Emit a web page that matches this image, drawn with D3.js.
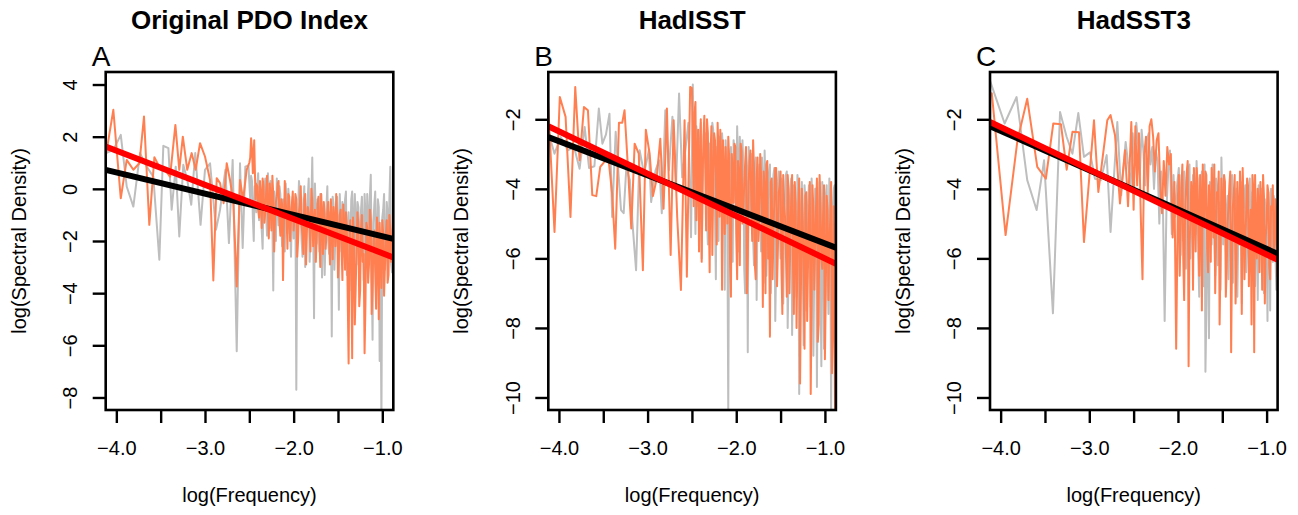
<!DOCTYPE html>
<html>
<head>
<meta charset="utf-8">
<script src="https://cdn.jsdelivr.net/npm/d3@7"></script>
<style>
  body { margin: 0; background: #fff; }
  text { font-family: "Liberation Sans", Arial, Helvetica, sans-serif; fill: #000; }
</style>
</head>
<body>
<svg id="chart"></svg>
<script>
// ---- data ----
const titles = ["Original PDO Index", "HadISST", "HadSST3"];
const letters = ["A", "B", "C"];
const xDomain = [-4.12, -0.876];
const xTicks = [-4.0, -3.5, -3.0, -2.5, -2.0, -1.5, -1.0];
const xLabelTicks = [-4.0, -3.0, -2.0, -1.0];
const yDomains = [[-8.48, 4.48], [-10.36, -0.64], [-10.36, -0.64]];
const yTicks = [[-8, -6, -4, -2, 0, 2, 4], [-10, -8, -6, -4, -2], [-10, -8, -6, -4, -2]];

// regression lines: y = intercept + slope * x
const blackSlope = [-0.817, -0.98, -1.132];
const blackIntercept = [-2.636, -6.55, -6.86];
const redSlope = [-1.31, -1.218, -1.222];
const redIntercept = [-3.777, -7.22, -7.11];

// [log(frequency), log(spectral density)]
const pdoGray = [[-4.12,1.37],[-4.034,1.49],[-3.95,2.07],[-3.883,0.09],[-3.808,-0.68],[-3.733,1.37],[-3.658,0.85],[-3.583,0.47],[-3.515,-2.72],[-3.47,1.65],[-3.413,1.56],[-3.376,-0.8],[-3.33,0.85],[-3.29,-1.83],[-3.245,0.92],[-3.2,0.34],[-3.155,-0.61],[-3.11,1.37],[-3.05,-1.38],[-3.0,0.73],[-2.943,0.98],[-2.876,-1.57],[-2.83,-0.8],[-2.77,0.73],[-2.73,-2.08],[-2.688,1.11],[-2.642,-6.23],[-2.605,0.98],[-2.575,-2.27],[-2.545,0.85],
  [-2.51,0.9],[-2.49,-0.4],[-2.47,0.3],[-2.45,-2.0],[-2.43,-0.5],[-2.41,0.2],[-2.39,-1.2],[-2.37,-0.2],[-2.35,-2.3],[-2.33,0.0],[-2.31,-1.0],[-2.29,0.6],[-2.27,-1.5],[-2.25,-0.4],[-2.23,-3.9],[-2.21,-0.6],[-2.19,0.4],[-2.17,-1.4],[-2.15,-0.2],[-2.13,-2.2],[-2.11,-0.8],[-2.09,0.2],[-2.07,-1.7],[-2.05,-0.5],[-2.03,-2.6],[-2.01,-0.3],[-1.99,-1.2],[-1.97,-7.7],[-1.95,-0.9],[-1.93,-0.1],[-1.91,-2.0],[-1.89,-0.6],[-1.87,-3.0],[-1.85,-0.8],[-1.83,0.4],[-1.81,-1.6],[-1.79,1.2],[-1.77,-4.96],[-1.75,-1.0],[-1.73,-0.4],[-1.71,-2.4],[-1.69,-0.2],[-1.67,-1.5],[-1.65,-3.3],[-1.63,-0.7],[-1.61,-2.0],[-1.59,-0.9],[-1.57,-5.66],[-1.55,-0.6],[-1.53,-1.9],[-1.51,-0.3],[-1.49,-4.64],[-1.47,-1.2],[-1.45,-0.5],[-1.43,-2.6],[-1.41,-0.1],[-1.39,-1.8],[-1.37,-3.9],[-1.35,-0.4],[-1.33,-1.3],[-1.31,-0.2],[-1.29,-2.9],[-1.27,-0.7],[-1.25,-1.6],[-1.23,-0.3],[-1.21,-3.5],[-1.19,-1.0],[-1.17,-0.2],[-1.15,-2.2],[-1.13,0.54],[-1.11,-5.79],[-1.09,-0.6],[-1.07,-2.5],[-1.05,-0.4],[-1.03,-6.6],[-1.01,-9.0],[-0.99,-0.8],[-0.97,-3.1],[-0.95,-0.5],[-0.93,-2.4],[-0.91,0.85],[-0.89,-3.2],[-0.88,-1.5]];
const pdoGrayHi = [[-2.48,0.5],[-2.46,-1.1],[-2.44,0.1],[-2.42,-0.9],[-2.4,0.6],[-2.38,-0.7],[-2.36,-1.6],[-2.34,-0.3],[-2.32,0.4],[-2.3,-1.8],[-2.28,-0.2],[-2.26,0.3],[-2.24,-1.2],[-2.22,-0.1],[-2.2,-2.0],[-2.18,-0.5],[-2.16,0.1],[-2.14,-1.3],[-2.12,-0.4],[-2.1,-2.4],[-2.08,-0.6],[-2.06,0.0],[-2.04,-1.5],[-2.02,-0.7],[-2.0,-1.9],
  [-1.98,-0.6],[-1.96,-1.9],[-1.94,0.3],[-1.92,-1.1],[-1.9,-2.6],[-1.88,0.1],[-1.86,-1.4],[-1.84,-0.3],[-1.82,-2.8],[-1.8,-0.5],[-1.78,-1.3],[-1.76,0.2],[-1.74,-2.1],[-1.72,-0.9],[-1.7,-0.2],[-1.68,-3.4],[-1.66,-0.6],[-1.64,-1.8],[-1.62,0.1],[-1.6,-2.5],[-1.58,-1.0],[-1.56,-0.3],[-1.54,-3.1],[-1.52,-0.8],[-1.5,-1.7],[-1.48,-0.2],[-1.46,-2.4],[-1.44,-1.1],[-1.42,-0.4],[-1.4,-3.3],[-1.38,-0.9],[-1.36,-2.0],[-1.34,-0.1],[-1.32,-2.7],[-1.3,-1.2],[-1.28,-0.5],[-1.26,-3.6],[-1.24,-0.8],[-1.22,-1.9],[-1.2,-0.2],[-1.18,-2.8],[-1.16,-1.0],[-1.14,-0.3],[-1.12,-3.0],[-1.1,-1.3],[-1.08,-0.1],[-1.06,-2.3],[-1.04,-0.7],[-1.02,-3.4],[-1.0,-1.1],[-0.98,-0.2],[-0.96,-2.6],[-0.94,-1.0],[-0.92,-0.4],[-0.9,-2.9]];

const pdoOrange = [[-4.12,1.24],[-4.034,3.03],[-3.95,-0.36],[-3.883,1.11],[-3.808,0.73],[-3.74,0.98],[-3.688,2.77],[-3.628,-1.38],[-3.571,1.21],[-3.507,0.79],[-3.45,0.73],[-3.394,0.47],[-3.334,2.45],[-3.29,0.73],[-3.25,2.0],[-3.2,0.73],[-3.15,1.37],[-3.105,0.73],[-3.056,1.75],[-3.0,1.24],[-2.943,0.34],[-2.906,-3.51],[-2.868,0.41],[-2.83,0.22],[-2.79,-0.55],[-2.755,0.98],[-2.718,0.34],[-2.68,-0.5],[-2.642,-3.74],[-2.605,0.34],[-2.57,-0.42],[-2.53,0.73],
  [-2.5,1.0],[-2.48,1.94],[-2.46,0.6],[-2.445,1.86],[-2.425,0.2],[-2.4,-0.8],[-2.38,0.3],[-2.36,-1.5],[-2.34,0.1],[-2.32,-0.9],[-2.3,0.5],[-2.28,-1.9],[-2.26,-0.3],[-2.24,0.5],[-2.22,-2.4],[-2.2,-0.5],[-2.18,0.2],[-2.16,-1.2],[-2.14,-0.4],[-2.12,-3.5],[-2.1,0.3],[-2.08,-1.0],[-2.06,-0.2],[-2.04,-2.0],[-2.02,-0.6],[-2.0,-1.6],[-1.98,-0.2],[-1.96,-2.6],[-1.94,-0.9],[-1.92,0.1],[-1.9,-1.8],[-1.88,-0.4],[-1.86,-2.9],[-1.84,-0.7],[-1.82,-1.5],[-1.8,0.0],[-1.78,-2.2],[-1.76,-0.8],[-1.74,-1.9],[-1.72,-0.3],[-1.7,-3.0],[-1.68,-1.1],[-1.66,-0.5],[-1.64,-2.3],[-1.62,-0.9],[-1.6,-1.7],[-1.58,-0.4],[-1.56,-2.7],[-1.54,-1.2],[-1.52,-0.2],[-1.5,-3.4],[-1.48,-1.0],[-1.46,-2.1],[-1.44,-0.6],[-1.42,-3.1],[-1.4,-1.5],[-1.38,-6.7],[-1.36,-1.2],[-1.34,-6.5],[-1.32,-2.0],[-1.3,-3.8],[-1.28,-0.9],[-1.26,-4.5],[-1.24,-1.6],[-1.22,-2.8],[-1.2,-6.3],[-1.18,-1.3],[-1.16,-3.6],[-1.14,-0.8],[-1.12,-4.8],[-1.1,-2.0],[-1.08,-3.2],[-1.06,-1.1],[-1.04,-5.0],[-1.02,-2.4],[-1.0,-1.2],[-0.98,-4.1],[-0.96,-1.8],[-0.94,-3.6],[-0.92,-1.0],[-0.9,-2.8],[-0.88,-1.3]];
const pdoOrangeHi = [[-2.49,1.2],[-2.47,1.5],[-2.43,-0.4],[-2.41,0.1],[-2.39,-1.1],[-2.37,-0.3],[-2.35,0.4],[-2.33,-1.3],[-2.31,-0.1],[-2.29,-0.8],[-2.27,0.2],[-2.25,-1.6],[-2.23,-0.2],[-2.21,-1.1],[-2.19,-0.3],[-2.17,0.3],[-2.15,-1.8],[-2.13,-0.6],[-2.11,-1.4],[-2.09,-0.5],[-2.07,-2.3],[-2.05,-0.3],[-2.03,-1.2],[-2.01,-0.1],
  [-1.99,-1.1],[-1.97,-0.4],[-1.95,-2.0],[-1.93,-0.6],[-1.91,-1.4],[-1.89,-2.5],[-1.87,-0.2],[-1.85,-1.6],[-1.83,-0.9],[-1.81,-2.4],[-1.79,-0.5],[-1.77,-1.2],[-1.75,-2.8],[-1.73,-0.6],[-1.71,-1.7],[-1.69,-0.2],[-1.67,-2.5],[-1.65,-1.0],[-1.63,-1.8],[-1.61,-0.5],[-1.59,-2.9],[-1.57,-1.3],[-1.55,-0.7],[-1.53,-2.2],[-1.51,-1.0],[-1.49,-2.6],[-1.47,-0.8],[-1.45,-3.5],[-1.43,-1.4],[-1.41,-0.9],[-1.39,-4.2],[-1.37,-1.8],[-1.35,-3.0],[-1.33,-1.1],[-1.31,-5.2],[-1.29,-2.2],[-1.27,-1.4],[-1.25,-3.9],[-1.23,-1.0],[-1.21,-2.5],[-1.19,-4.4],[-1.17,-1.5],[-1.15,-2.9],[-1.13,-1.2],[-1.11,-3.7],[-1.09,-1.6],[-1.07,-4.6],[-1.05,-2.1],[-1.03,-1.3],[-1.01,-3.8],[-0.99,-1.7],[-0.97,-2.9],[-0.95,-1.2],[-0.93,-3.3],[-0.91,-1.6],[-0.89,-2.2]];

const hadisstGray = [[-4.124,-2.32],[-4.05,-2.99],[-3.98,-2.51],[-3.9,-2.89],[-3.83,-2.8],[-3.767,-3.42],[-3.71,-2.22],[-3.66,-3.4],[-3.6,-3.35],[-3.55,-1.69],[-3.51,-2.7],[-3.47,-2.44],[-3.43,-1.84],[-3.4,-4.81],[-3.36,-2.36],[-3.3,-4.61],[-3.27,-4.7],[-3.24,-3.4],[-3.2,-3.75],[-3.17,-5.0],[-3.13,-6.34],[-3.09,-2.89],[-3.04,-3.56],[-2.985,-2.89],[-2.96,-4.38],[-2.91,-3.47],[-2.87,-3.18],[-2.84,-4.7],[-2.8,-1.74],[-2.76,-3.47],[-2.72,-1.93],[-2.68,-3.93],[-2.645,-1.26],[-2.61,-3.67],[-2.57,-2.8],[-2.54,-2.1],[-2.51,-5.39],
  [-2.49,-1.0],[-2.47,-3.8],[-2.45,-2.2],[-2.43,-4.5],[-2.41,-2.6],[-2.39,-6.0],[-2.37,-3.0],[-2.35,-2.4],[-2.33,-4.8],[-2.31,-2.8],[-2.29,-5.1],[-2.27,-2.1],[-2.25,-3.9],[-2.23,-6.6],[-2.21,-3.2],[-2.19,-2.5],[-2.17,-4.4],[-2.15,-2.9],[-2.13,-6.9],[-2.11,-3.4],[-2.09,-10.5],[-2.07,-3.0],[-2.05,-5.0],[-2.03,-2.6],[-2.01,-4.3],[-1.99,-2.2],[-1.97,-5.8],[-1.95,-3.4],[-1.93,-2.6],[-1.91,-6.3],[-1.89,-3.0],[-1.87,-8.7],[-1.85,-3.9],[-1.83,-3.0],[-1.81,-5.4],[-1.79,-3.3],[-1.77,-7.2],[-1.75,-3.6],[-1.73,-4.8],[-1.71,-3.1],[-1.69,-6.7],[-1.67,-3.9],[-1.65,-5.5],[-1.63,-3.5],[-1.61,-7.0],[-1.59,-4.2],[-1.57,-3.4],[-1.55,-6.1],[-1.53,-3.8],[-1.51,-5.2],[-1.49,-3.7],[-1.47,-7.3],[-1.45,-4.3],[-1.43,-3.5],[-1.41,-6.4],[-1.39,-4.1],[-1.37,-8.2],[-1.35,-3.9],[-1.33,-5.6],[-1.31,-3.6],[-1.29,-9.9],[-1.27,-4.5],[-1.25,-6.2],[-1.23,-3.9],[-1.21,-7.5],[-1.19,-4.4],[-1.17,-5.3],[-1.15,-3.7],[-1.13,-8.8],[-1.11,-4.0],[-1.09,-9.7],[-1.07,-4.6],[-1.05,-6.6],[-1.03,-3.8],[-1.01,-8.6],[-0.99,-4.2],[-0.97,-6.0],[-0.95,-3.7],[-0.93,-10.5],[-0.91,-4.5],[-0.89,-3.9],[-0.88,-5.2]];
const hadisstGrayHi = [[-2.48,-2.9],[-2.46,-5.3],[-2.44,-2.5],[-2.42,-3.4],[-2.4,-2.1],[-2.38,-4.2],[-2.36,-2.9],[-2.34,-3.5],[-2.32,-5.6],[-2.3,-2.7],[-2.28,-3.6],[-2.26,-2.3],[-2.24,-4.7],[-2.22,-2.8],[-2.2,-5.5],[-2.18,-3.3],[-2.16,-2.4],[-2.14,-4.0],[-2.12,-2.6],[-2.1,-5.2],[-2.08,-3.5],[-2.06,-2.8],[-2.04,-6.1],[-2.02,-3.1],[-2.0,-4.7],
  [-1.98,-3.2],[-1.96,-2.5],[-1.94,-4.9],[-1.92,-3.3],[-1.9,-7.0],[-1.88,-3.5],[-1.86,-2.8],[-1.84,-5.0],[-1.82,-3.7],[-1.8,-6.2],[-1.78,-3.1],[-1.76,-4.4],[-1.74,-3.3],[-1.72,-5.8],[-1.7,-3.8],[-1.68,-2.9],[-1.66,-6.5],[-1.64,-4.1],[-1.62,-3.3],[-1.6,-5.3],[-1.58,-3.6],[-1.56,-7.8],[-1.54,-4.0],[-1.52,-3.5],[-1.5,-6.0],[-1.48,-3.9],[-1.46,-5.1],[-1.44,-3.6],[-1.42,-8.0],[-1.4,-4.4],[-1.38,-3.7],[-1.36,-6.3],[-1.34,-4.2],[-1.32,-7.1],[-1.3,-3.9],[-1.28,-5.5],[-1.26,-3.8],[-1.24,-8.5],[-1.22,-4.3],[-1.2,-5.9],[-1.18,-3.9],[-1.16,-7.4],[-1.14,-4.6],[-1.12,-6.2],[-1.1,-4.0],[-1.08,-5.6],[-1.06,-3.8],[-1.04,-9.1],[-1.02,-4.5],[-1.0,-6.4],[-0.98,-3.9],[-0.96,-7.6],[-0.94,-4.4],[-0.92,-5.8],[-0.9,-4.0]];

const hadisstOrange = [[-4.124,-1.45],[-4.05,-5.24],[-3.99,-1.36],[-3.925,-1.93],[-3.87,-4.81],[-3.816,-1.07],[-3.767,-3.18],[-3.718,-1.65],[-3.673,-1.74],[-3.624,-4.18],[-3.579,-4.21],[-3.534,-3.37],[-3.49,-3.23],[-3.447,-2.99],[-3.4,-4.14],[-3.365,-5.72],[-3.323,-2.1],[-3.286,-2.1],[-3.26,-1.74],[-3.22,-3.47],[-3.184,-5.14],[-3.146,-2.7],[-3.1,-2.99],[-3.053,-6.34],[-3.02,-2.3],[-2.977,-2.99],[-2.94,-4.21],[-2.9,-3.75],[-2.857,-2.56],[-2.82,-4.57],[-2.782,-1.69],[-2.74,-5.9],[-2.706,-2.03],[-2.666,-4.81],[-2.624,-6.91],[-2.583,-2.03],[-2.557,-6.53],[-2.52,-1.07],
  [-2.5,-1.1],[-2.48,-4.5],[-2.46,-1.5],[-2.44,-3.2],[-2.42,-5.8],[-2.4,-2.0],[-2.38,-3.8],[-2.36,-1.9],[-2.34,-5.2],[-2.32,-2.4],[-2.3,-6.4],[-2.28,-2.2],[-2.26,-4.0],[-2.24,-2.6],[-2.22,-5.6],[-2.2,-3.0],[-2.18,-2.3],[-2.16,-6.9],[-2.14,-3.5],[-2.12,-2.8],[-2.1,-5.0],[-2.08,-3.1],[-2.06,-7.1],[-2.04,-3.6],[-2.02,-2.7],[-2.0,-5.3],[-1.98,-3.2],[-1.96,-6.2],[-1.94,-2.9],[-1.92,-4.6],[-1.9,-3.3],[-1.88,-7.0],[-1.86,-3.8],[-1.84,-2.9],[-1.82,-5.5],[-1.8,-3.4],[-1.78,-6.6],[-1.76,-3.1],[-1.74,-4.9],[-1.72,-3.6],[-1.7,-7.4],[-1.68,-4.0],[-1.66,-3.3],[-1.64,-6.0],[-1.62,-8.25],[-1.6,-3.7],[-1.58,-5.2],[-1.56,-3.4],[-1.54,-6.8],[-1.52,-4.1],[-1.5,-3.5],[-1.48,-7.6],[-1.46,-4.4],[-1.44,-5.8],[-1.42,-3.6],[-1.4,-7.0],[-1.38,-4.3],[-1.36,-6.2],[-1.34,-3.8],[-1.32,-8.0],[-1.3,-4.6],[-1.28,-9.6],[-1.26,-4.0],[-1.24,-6.5],[-1.22,-4.2],[-1.2,-7.8],[-1.18,-4.8],[-1.16,-9.9],[-1.14,-3.9],[-1.12,-6.9],[-1.1,-4.5],[-1.08,-8.4],[-1.06,-3.6],[-1.04,-6.0],[-1.02,-4.7],[-1.0,-8.9],[-0.98,-4.2],[-0.96,-7.2],[-0.94,-4.9],[-0.92,-9.3],[-0.9,-4.5],[-0.885,-11.0],[-0.88,-5.0]];
const hadisstOrangeHi = [[-2.49,-2.6],[-2.47,-1.8],[-2.45,-4.9],[-2.43,-2.3],[-2.41,-3.5],[-2.39,-6.1],[-2.37,-2.5],[-2.35,-3.4],[-2.33,-2.0],[-2.31,-4.6],[-2.29,-3.0],[-2.27,-5.9],[-2.25,-2.4],[-2.23,-3.6],[-2.21,-2.1],[-2.19,-4.8],[-2.17,-3.2],[-2.15,-2.6],[-2.13,-5.3],[-2.11,-3.7],[-2.09,-2.5],[-2.07,-6.1],[-2.05,-3.0],[-2.03,-4.4],[-2.01,-2.8],
  [-1.99,-6.6],[-1.97,-3.6],[-1.95,-2.7],[-1.93,-5.0],[-1.91,-3.9],[-1.89,-2.8],[-1.87,-5.9],[-1.85,-3.2],[-1.83,-4.4],[-1.81,-2.6],[-1.79,-6.2],[-1.77,-3.7],[-1.75,-5.5],[-1.73,-3.0],[-1.71,-4.5],[-1.69,-3.5],[-1.67,-7.0],[-1.65,-3.2],[-1.63,-5.0],[-1.61,-3.8],[-1.59,-6.6],[-1.57,-4.3],[-1.55,-3.4],[-1.53,-5.7],[-1.51,-3.9],[-1.49,-6.3],[-1.47,-3.6],[-1.45,-4.8],[-1.43,-7.1],[-1.41,-4.0],[-1.39,-5.4],[-1.37,-3.6],[-1.35,-7.6],[-1.33,-4.4],[-1.31,-5.9],[-1.29,-3.7],[-1.27,-6.8],[-1.25,-4.9],[-1.23,-8.6],[-1.21,-4.1],[-1.19,-6.1],[-1.17,-3.8],[-1.15,-7.3],[-1.13,-4.6],[-1.11,-5.5],[-1.09,-3.7],[-1.07,-7.9],[-1.05,-4.4],[-1.03,-6.3],[-1.01,-3.9],[-0.99,-7.0],[-0.97,-4.6],[-0.95,-5.6],[-0.93,-3.8],[-0.91,-7.7]];

const hadsstGray = [[-4.121,-0.88],[-3.955,-2.12],[-3.82,-1.36],[-3.7,-3.75],[-3.594,-4.61],[-3.51,-3.18],[-3.41,-7.58],[-3.33,-1.79],[-3.255,-2.51],[-3.19,-2.99],[-3.124,-1.82],[-3.06,-3.08],[-2.992,-2.95],[-2.936,-3.71],[-2.87,-3.75],[-2.804,-3.03],[-2.76,-5.24],[-2.684,-2.08],[-2.64,-4.18],[-2.59,-2.65],[-2.533,-3.94],
  [-2.51,-2.4],[-2.49,-3.2],[-2.47,-2.1],[-2.45,-2.7],[-2.43,-3.6],[-2.41,-2.3],[-2.39,-2.9],[-2.37,-3.9],[-2.35,-2.6],[-2.33,-2.4],[-2.31,-3.3],[-2.29,-2.8],[-2.27,-4.0],[-2.25,-2.9],[-2.23,-3.2],[-2.21,-5.0],[-2.19,-3.5],[-2.17,-4.4],[-2.15,-7.8],[-2.13,-4.6],[-2.11,-3.5],[-2.09,-2.9],[-2.07,-5.3],[-2.05,-3.6],[-2.03,-4.8],[-2.01,-3.9],[-1.99,-3.4],[-1.97,-5.9],[-1.95,-4.0],[-1.93,-3.5],[-1.91,-6.3],[-1.89,-4.4],[-1.87,-3.3],[-1.85,-5.1],[-1.83,-3.6],[-1.81,-4.6],[-1.79,-3.2],[-1.77,-6.0],[-1.75,-4.2],[-1.73,-3.5],[-1.71,-6.8],[-1.69,-9.26],[-1.67,-5.2],[-1.65,-8.3],[-1.63,-4.0],[-1.61,-3.3],[-1.59,-5.4],[-1.57,-3.7],[-1.55,-6.2],[-1.53,-4.4],[-1.51,-3.1],[-1.49,-5.6],[-1.47,-4.0],[-1.45,-4.7],[-1.43,-6.6],[-1.41,-4.1],[-1.39,-3.6],[-1.37,-5.3],[-1.35,-4.3],[-1.33,-7.1],[-1.31,-4.6],[-1.29,-3.8],[-1.27,-5.9],[-1.25,-4.2],[-1.23,-6.4],[-1.21,-4.5],[-1.19,-3.7],[-1.17,-5.5],[-1.15,-4.2],[-1.13,-6.8],[-1.11,-4.7],[-1.09,-3.9],[-1.07,-5.7],[-1.05,-4.4],[-1.03,-7.0],[-1.01,-4.8],[-0.99,-7.8],[-0.97,-4.6],[-0.95,-4.0],[-0.93,-6.1],[-0.91,-4.4],[-0.89,-6.9],[-0.88,-5.2]];
const hadsstGrayHi = [[-1.98,-4.4],[-1.96,-3.6],[-1.94,-5.5],[-1.92,-3.9],[-1.9,-4.8],[-1.88,-3.4],[-1.86,-6.0],[-1.84,-4.2],[-1.82,-3.7],[-1.8,-5.3],[-1.78,-4.0],[-1.76,-7.1],[-1.74,-3.9],[-1.72,-4.6],[-1.7,-3.3],[-1.68,-7.6],[-1.66,-4.5],[-1.64,-3.8],[-1.62,-5.6],[-1.6,-4.1],[-1.58,-6.5],[-1.56,-3.9],[-1.54,-4.8],[-1.52,-6.9],[-1.5,-4.3],[-1.48,-3.7],[-1.46,-5.8],[-1.44,-4.2],[-1.42,-5.1],[-1.4,-3.9],[-1.38,-6.7],[-1.36,-4.6],[-1.34,-4.0],[-1.32,-5.4],[-1.3,-4.2],[-1.28,-7.3],[-1.26,-4.5],[-1.24,-3.9],[-1.22,-5.7],[-1.2,-4.3],[-1.18,-6.1],[-1.16,-4.1],[-1.14,-5.0],[-1.12,-4.4],[-1.1,-7.2],[-1.08,-4.5],[-1.06,-4.0],[-1.04,-6.3],[-1.02,-4.3],[-1.0,-5.5],[-0.98,-4.1],[-0.96,-7.5],[-0.94,-4.6],[-0.92,-4.2],[-0.9,-5.9]];

const hadsstOrange = [[-4.121,-1.31],[-4.1,-1.25],[-3.944,-5.33],[-3.81,-2.6],[-3.7,-1.41],[-3.587,-3.37],[-3.49,-3.71],[-3.406,-2.12],[-3.32,-2.14],[-3.255,-3.45],[-3.19,-2.36],[-3.116,-2.37],[-3.06,-5.53],[-2.947,-2.03],[-2.898,-4.09],[-2.797,-2.03],[-2.76,-1.88],[-2.71,-2.46],[-2.654,-4.42],[-2.597,-2.89],[-2.563,-4.5],[-2.526,-2.08],
  [-2.5,-4.6],[-2.48,-2.2],[-2.46,-3.9],[-2.44,-2.4],[-2.42,-4.7],[-2.4,-6.6],[-2.38,-3.0],[-2.36,-2.5],[-2.34,-4.1],[-2.32,-2.2],[-2.3,-2.0],[-2.28,-2.5],[-2.26,-3.5],[-2.24,-2.6],[-2.22,-2.4],[-2.2,-3.9],[-2.18,-4.7],[-2.16,-3.2],[-2.14,-4.2],[-2.12,-2.8],[-2.1,-3.3],[-2.08,-3.0],[-2.06,-5.4],[-2.04,-3.8],[-2.02,-8.6],[-2.0,-4.2],[-1.98,-6.5],[-1.96,-3.9],[-1.94,-6.0],[-1.92,-4.8],[-1.9,-3.5],[-1.88,-9.1],[-1.86,-5.0],[-1.84,-4.0],[-1.82,-3.4],[-1.8,-5.8],[-1.78,-3.7],[-1.76,-6.5],[-1.74,-4.3],[-1.72,-3.3],[-1.7,-4.9],[-1.68,-3.6],[-1.66,-6.4],[-1.64,-4.4],[-1.62,-3.4],[-1.6,-5.4],[-1.58,-7.0],[-1.56,-4.1],[-1.54,-3.5],[-1.52,-6.0],[-1.5,-4.6],[-1.48,-3.6],[-1.46,-7.1],[-1.44,-5.0],[-1.42,-3.9],[-1.4,-8.7],[-1.38,-4.5],[-1.36,-3.6],[-1.34,-6.2],[-1.32,-4.8],[-1.3,-3.5],[-1.28,-7.6],[-1.26,-4.4],[-1.24,-5.5],[-1.22,-3.7],[-1.2,-6.8],[-1.18,-4.6],[-1.16,-3.6],[-1.14,-8.7],[-1.12,-5.2],[-1.1,-4.0],[-1.08,-6.4],[-1.06,-4.5],[-1.04,-3.6],[-1.02,-7.3],[-1.0,-5.0],[-0.98,-4.1],[-0.96,-6.6],[-0.94,-4.6],[-0.92,-5.8],[-0.9,-4.3],[-0.88,-6.5]];
const hadsstOrangeHi = [[-1.99,-3.6],[-1.97,-5.2],[-1.95,-3.3],[-1.93,-7.2],[-1.91,-4.1],[-1.89,-3.2],[-1.87,-5.6],[-1.85,-3.8],[-1.83,-6.9],[-1.81,-4.2],[-1.79,-3.4],[-1.77,-5.0],[-1.75,-3.6],[-1.73,-7.5],[-1.71,-4.4],[-1.69,-3.5],[-1.67,-5.7],[-1.65,-3.9],[-1.63,-6.1],[-1.61,-4.0],[-1.59,-3.3],[-1.57,-5.5],[-1.55,-4.3],[-1.53,-7.9],[-1.51,-3.7],[-1.49,-5.1],[-1.47,-3.8],[-1.45,-6.3],[-1.43,-4.5],[-1.41,-3.5],[-1.39,-5.9],[-1.37,-4.1],[-1.35,-7.3],[-1.33,-3.8],[-1.31,-5.6],[-1.29,-4.3],[-1.27,-3.4],[-1.25,-6.6],[-1.23,-4.7],[-1.21,-3.9],[-1.19,-5.3],[-1.17,-7.9],[-1.15,-4.0],[-1.13,-3.6],[-1.11,-6.0],[-1.09,-4.4],[-1.07,-3.8],[-1.05,-6.9],[-1.03,-4.2],[-1.01,-5.4],[-0.99,-3.9],[-0.97,-6.2],[-0.95,-4.5],[-0.93,-3.9],[-0.91,-5.6],[-0.89,-4.7]];

// each spectrum is the coarse reading plus the in-between peaks of the dense part
const byFreq = (a, b) => a[0] - b[0];
const graySeries = [
  pdoGray.concat(pdoGrayHi).sort(byFreq),
  hadisstGray.concat(hadisstGrayHi).sort(byFreq),
  hadsstGray.concat(hadsstGrayHi).sort(byFreq),
];
const orangeSeries = [
  pdoOrange.concat(pdoOrangeHi).sort(byFreq),
  hadisstOrange.concat(hadisstOrangeHi).sort(byFreq),
  hadsstOrange.concat(hadsstOrangeHi).sort(byFreq),
];

// ---- layout ----
const W = 1298, H = 515;
const boxLeft = [105.7, 548.3, 990];
const boxW = 287.6, boxTop = 72, boxBottom = 410;
const tickLen = 13;

const svg = d3.select("#chart").attr("width", W).attr("height", H);
svg.append("rect").attr("width", W).attr("height", H).attr("fill", "#fff");

const fmtX = d3.format(".1f");
const fmtY = d3.format("d");

titles.forEach((title, i) => {
  const x0 = boxLeft[i];
  const cx = x0 + boxW / 2;
  const x = d3.scaleLinear(xDomain, [x0, x0 + boxW]);
  const y = d3.scaleLinear(yDomains[i], [boxBottom, boxTop]);
  const g = svg.append("g");

  svg.append("clipPath").attr("id", "clip" + i)
    .append("rect")
    .attr("x", x0).attr("y", boxTop)
    .attr("width", boxW).attr("height", boxBottom - boxTop);

  const plot = g.append("g").attr("clip-path", `url(#clip${i})`);
  const line = d3.line().x((d) => x(d[0])).y((d) => y(d[1]));

  plot.append("path").datum(graySeries[i]).attr("d", line)
    .attr("fill", "none").attr("stroke", "#bebebe").attr("stroke-width", 2)
    .attr("stroke-linejoin", "round").attr("stroke-linecap", "round");
  plot.append("path").datum(orangeSeries[i]).attr("d", line)
    .attr("fill", "none").attr("stroke", "#ff7f50").attr("stroke-width", 2)
    .attr("stroke-linejoin", "round").attr("stroke-linecap", "round");

  // fitted lines, drawn across the whole plot region
  const blackFit = xDomain.map((v) => [v, blackIntercept[i] + blackSlope[i] * v]);
  const redFit = xDomain.map((v) => [v, redIntercept[i] + redSlope[i] * v]);
  plot.append("path").datum(blackFit).attr("d", line)
    .attr("fill", "none").attr("stroke", "#000").attr("stroke-width", 6);
  plot.append("path").datum(redFit).attr("d", line)
    .attr("fill", "none").attr("stroke", "#ff0000").attr("stroke-width", 6);

  // box
  g.append("rect")
    .attr("x", x0).attr("y", boxTop)
    .attr("width", boxW).attr("height", boxBottom - boxTop)
    .attr("fill", "none").attr("stroke", "#000").attr("stroke-width", 2.6);

  // x axis
  const xAxis = g.append("g")
    .attr("transform", `translate(0,${boxBottom})`)
    .call(d3.axisBottom(x).tickValues(xTicks).tickSize(tickLen)
      .tickFormat((d) => (xLabelTicks.includes(d) ? fmtX(d) : "")));
  xAxis.select(".domain").remove();
  xAxis.selectAll("line").attr("stroke", "#000").attr("stroke-width", 2.4);
  xAxis.selectAll("text")
    .attr("y", 45).attr("dy", null)
    .attr("font-size", 20).attr("fill", "#000");

  // y axis, labels parallel to the axis
  const yAxis = g.append("g")
    .attr("transform", `translate(${x0},0)`)
    .call(d3.axisLeft(y).tickValues(yTicks[i]).tickSize(tickLen).tickFormat(fmtY));
  yAxis.select(".domain").remove();
  yAxis.selectAll("line").attr("stroke", "#000").attr("stroke-width", 2.4);
  yAxis.selectAll("text")
    .attr("x", 0).attr("y", 0).attr("dy", null)
    .attr("text-anchor", "middle")
    .attr("transform", "translate(-28.7,0) rotate(-90)")
    .attr("font-size", 20).attr("fill", "#000");

  // titles and labels
  g.append("text").text(title)
    .attr("x", cx).attr("y", 29)
    .attr("text-anchor", "middle")
    .attr("font-weight", "bold").attr("font-size", 26);

  g.append("text").text(letters[i])
    .attr("x", x0 - 14).attr("y", 66)
    .attr("font-size", 28);

  g.append("text").text("log(Frequency)")
    .attr("x", cx).attr("y", 502)
    .attr("text-anchor", "middle").attr("font-size", 20);

  g.append("text").text("log(Spectral Density)")
    .attr("text-anchor", "middle").attr("font-size", 20)
    .attr("transform", `translate(${x0 - 80},${(boxTop + boxBottom) / 2}) rotate(-90)`);
});
</script>
</body>
</html>
